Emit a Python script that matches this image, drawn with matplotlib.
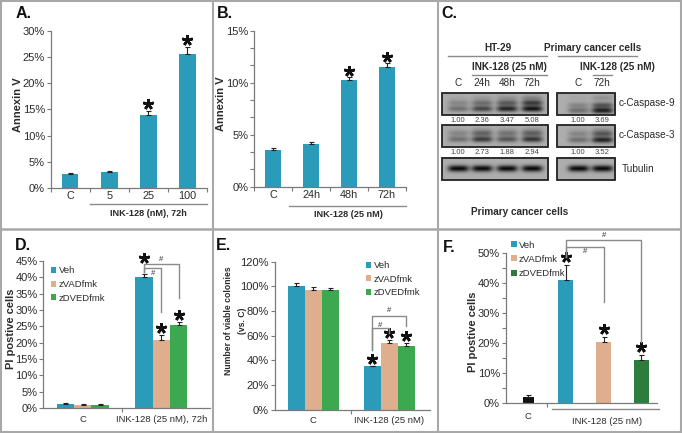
import numpy as np
import matplotlib.pyplot as plt
from matplotlib.patches import Rectangle
from matplotlib.ticker import MultipleLocator, FuncFormatter
from matplotlib.transforms import offset_copy

plt.rcParams['font.family'] = ['Liberation Sans', 'DejaVu Sans']

W, H = 682, 433

# ---- data -------------------------------------------------------------
a_cats = ['C', '5', '25', '100']
a_vals = [2.7, 3.0, 14.0, 25.6]
a_err = [0.2, 0.25, 0.65, 1.2]
a_sig = [False, False, True, True]

b_cats = ['C', '24h', '48h', '72h']
b_vals = [3.5, 4.1, 10.25, 11.55]
b_err = [0.25, 0.2, 0.25, 0.35]
b_sig = [False, False, True, True]

c_lanes_ht = ['C', '24h', '48h', '72h']
c_lanes_pc = ['C', '72h']
c_cas9_ht = [1.00, 2.36, 3.47, 5.08]
c_cas9_pc = [1.00, 3.69]
c_cas3_ht = [1.00, 2.73, 1.88, 2.94]
c_cas3_pc = [1.00, 3.52]

treatments = ['Veh', 'zVADfmk', 'zDVEDfmk']

d_groups = ['C', 'INK-128 (25 nM), 72h']
d_veh = [1.2, 40.0]
d_zvad = [1.0, 20.9]
d_zdved = [1.0, 25.4]
d_veh_err = [0.2, 0.9]
d_zvad_err = [0.2, 1.3]
d_zdved_err = [0.2, 0.8]

e_groups = ['C', 'INK-128 (25 nM)']
e_veh = [100.0, 35.0]
e_zvad = [97.0, 53.7]
e_zdved = [96.5, 51.3]
e_veh_err = [2.2, 0.5]
e_zvad_err = [2.2, 2.7]
e_zdved_err = [2.0, 2.4]

f_cats = ['C', 'Veh', 'zVADfmk', 'zDVEDfmk']
f_vals = [2.0, 41.0, 20.4, 14.3]
f_err = [0.8, 5.0, 1.6, 1.8]
f_sig = [False, True, True, True]

# ---- style ------------------------------------------------------------
TEAL = '#2b9bba'
TAN = '#deae8e'
GREEN = '#3ca950'
DGREEN = '#2e7b3e'
AXC = '#7a7a7a'
TXT = '#2a2a2a'
pct = FuncFormatter(lambda v, _: f'{v:g}%')
ekw = dict(ecolor='#222222', elinewidth=0.8, capsize=1.8, capthick=0.8)

fig = plt.figure(figsize=(W / 100, H / 100), dpi=100)
ov = fig.add_axes([0, 0, 1, 1])
ov.set_xlim(0, W)
ov.set_ylim(H, 0)
ov.axis('off')


def px_axes(l, t, r, b):
    return fig.add_axes([l / W, 1 - b / H, (r - l) / W, (b - t) / H])


def style(ax, ymax, major, minor=None, xpad=3, xsize=7.8):
    ax.set_ylim(0, ymax)
    ax.yaxis.set_major_locator(MultipleLocator(major))
    if minor:
        ax.yaxis.set_minor_locator(MultipleLocator(minor))
    ax.yaxis.set_major_formatter(pct)
    for s in ['top', 'right']:
        ax.spines[s].set_visible(False)
    for s in ['left', 'bottom']:
        ax.spines[s].set_color(AXC)
        ax.spines[s].set_linewidth(0.9)
    ax.tick_params(axis='y', which='both', direction='out', length=3,
                   width=0.8, color=AXC, labelsize=8, pad=1.2,
                   labelcolor=TXT)
    ax.tick_params(axis='x', which='major', length=0, labelsize=xsize,
                   pad=xpad, labelcolor=TXT)
    ax.tick_params(axis='x', which='minor', length=3, width=0.8, color=AXC)
    ax.patch.set_alpha(0)


def stars(ax, xs, tops, errs, flags, dy=7):
    tr = offset_copy(ax.transData, fig=fig, y=dy, units='dots')
    for x, t, e, f in zip(xs, tops, errs, flags):
        if f:
            ax.plot(x, t + e, marker=(5, 2, 0), ms=7.8, mew=1.9,
                    color='#111111', transform=tr, clip_on=False)


def bracket(ax, xl, xr, ytop, yl, yr, lx, ly):
    ax.plot([xl, xl, xr, xr], [yl, ytop, ytop, yr], color='#8a8a8a',
            lw=1.0, clip_on=False)
    ax.text(lx, ly, '#', fontsize=5.5, ha='center', va='center',
            color=TXT)


def ylabel(ax, text, xfrac, yfrac=0.5):
    ax.set_ylabel(text, fontsize=8, fontweight='bold', color=TXT)
    ax.yaxis.set_label_coords(xfrac, yfrac)


def legend(ax, handles, x, y, spacing):
    lg = ax.legend(handles, treatments, loc='upper left',
                   bbox_to_anchor=(x, y), frameon=False, fontsize=6.8,
                   handlelength=0.6, handleheight=0.6, handletextpad=0.25,
                   labelspacing=spacing, borderaxespad=0, borderpad=0)
    for t in lg.get_texts():
        t.set_color(TXT)


# ---- panel borders and letters --------------------------------------
bc = '#a8a8a8'
ov.add_patch(Rectangle((1, 1), W - 2, H - 2.5, fill=False, ec=bc, lw=1.5))
ov.plot([0, W], [229, 229], color=bc, lw=1.8)
ov.plot([212.5, 212.5], [0, H], color=bc, lw=1.5)
ov.plot([437.5, 437.5], [0, H], color=bc, lw=1.5)
for lab, x, y in [('A.', 16, 14), ('B.', 217, 14), ('C.', 441, 14),
                  ('D.', 15, 246), ('E.', 216, 245), ('F.', 443, 247)]:
    ov.text(x, y, lab, fontsize=11.5, fontweight='bold', ha='left',
            va='center', color='#111111')

# ---- A ----------------------------------------------------------------
axA = px_axes(50.7, 30.7, 207, 188)
xa = np.arange(len(a_cats))
axA.bar(xa, a_vals, 0.42, color=TEAL,
        yerr=[np.zeros(len(a_vals)), a_err], error_kw=ekw)
axA.set_xlim(-0.5, len(a_cats) - 0.5)
style(axA, 30, 5, xpad=2.2)
axA.set_xticks(xa)
axA.set_xticklabels(a_cats)
axA.set_xticks(np.arange(-0.5, len(a_cats)), minor=True)
stars(axA, xa, a_vals, a_err, a_sig)
ylabel(axA, 'Annexin V', -0.177, 0.53)
axA.plot([0.5, 3.5], [-0.102, -0.102], color='#8a8a8a', lw=1.0,
         transform=axA.get_xaxis_transform(), clip_on=False)
axA.text(2.0, -0.16, 'INK-128 (nM), 72h', fontsize=6.6, fontweight='bold',
         ha='center', va='center', color=TXT,
         transform=axA.get_xaxis_transform())

# ---- B ----------------------------------------------------------------
axB = px_axes(254.3, 30.7, 405.7, 186.7)
xb = np.arange(len(b_cats))
axB.bar(xb, b_vals, 0.41, color=TEAL,
        yerr=[np.zeros(len(b_vals)), b_err], error_kw=ekw)
axB.set_xlim(-0.5, len(b_cats) - 0.5)
style(axB, 15, 5, minor=5 / 3, xpad=2.2)
axB.set_xticks(xb)
axB.set_xticklabels(b_cats)
axB.set_xticks(np.arange(-0.5, len(b_cats)), minor=True)
stars(axB, xb, b_vals, b_err, b_sig, dy=6)
ylabel(axB, 'Annexin V', -0.19, 0.53)
axB.plot([0.42, 3.5], [-0.122, -0.122], color='#8a8a8a', lw=1.0,
         transform=axB.get_xaxis_transform(), clip_on=False)
axB.text(2.0, -0.178, 'INK-128 (25 nM)', fontsize=6.6, fontweight='bold',
         ha='center', va='center', color=TXT,
         transform=axB.get_xaxis_transform())

# ---- C (western blot) ---------------------------------------------------
ht_x = [458, 481.7, 506.7, 531.7]
pc_x = [578, 601.7]


def blot(x0, x1, y0, y1, centers, lanes, bg=0.68):
    xs = np.linspace(x0, x1, 260)
    ys = np.linspace(y0, y1, 70)
    X, Y = np.meshgrid(xs, ys)
    img = np.full(X.shape, bg)
    for xc, bands in zip(centers, lanes):
        for pos, hh, dark in bands:
            yc = y0 + pos * (y1 - y0)
            img -= dark * np.exp(-((X - xc) / 10.5) ** 4) * \
                np.exp(-((Y - yc) / hh) ** 2)
    ov.imshow(np.clip(img, 0.03, 1), cmap='gray', vmin=0, vmax=1,
              extent=(x0, x1, y1, y0), aspect='auto',
              interpolation='bilinear')
    ov.add_patch(Rectangle((x0, y0), x1 - x0, y1 - y0, fill=False,
                           ec='#222222', lw=1.3))


def casp_lanes(vals, upper=0.42, lower=0.72):
    return [[(upper, 2.8, min(0.08 + 0.07 * v, 0.45)),
             (lower, 3.0, min(0.12 + 0.12 * v, 0.6)),
             (0.22, 3.0, 0.03 * v)] for v in vals]


def tub_lanes(n):
    return [[(0.5, 3.2, 0.64)] for _ in range(n)]


rows = [(93.3, 115.0), (125.0, 146.7), (157.7, 180.0)]
blot(441.7, 548.3, *rows[0], ht_x, casp_lanes(c_cas9_ht, 0.45, 0.72))
blot(556.7, 615.0, *rows[0], pc_x, casp_lanes(c_cas9_pc, 0.55, 0.8))
blot(441.7, 548.3, *rows[1], ht_x, casp_lanes(c_cas3_ht, 0.38, 0.65))
blot(556.7, 615.0, *rows[1], pc_x, casp_lanes(c_cas3_pc, 0.4, 0.68))
blot(441.7, 548.3, *rows[2], ht_x, tub_lanes(len(ht_x)))
blot(556.7, 615.0, *rows[2], pc_x, tub_lanes(len(pc_x)))
ov.set_xlim(0, W)
ov.set_ylim(H, 0)

for xs_, vals in [(ht_x, c_cas9_ht), (pc_x, c_cas9_pc)]:
    for x, v in zip(xs_, vals):
        ov.text(x, 120.8, f'{v:.2f}', fontsize=5.5, ha='center',
                va='center', color='#444444')
for xs_, vals in [(ht_x, c_cas3_ht), (pc_x, c_cas3_pc)]:
    for x, v in zip(xs_, vals):
        ov.text(x, 152.7, f'{v:.2f}', fontsize=5.5, ha='center',
                va='center', color='#444444')
for xs_, labs in [(ht_x, c_lanes_ht), (pc_x, c_lanes_pc)]:
    for x, lab in zip(xs_, labs):
        ov.text(x, 83.5, lab, fontsize=7.2, ha='center', va='center',
                color=TXT)
for y, lab in [(103.5, 'c-Caspase-9'), (135.5, 'c-Caspase-3'),
               (169, 'Tubulin')]:
    ov.text(619 if lab != 'Tubulin' else 622, y, lab, fontsize=7.2,
            ha='left', va='center', color=TXT)

ov.text(498, 47.7, 'HT-29', fontsize=7.2, fontweight='bold', ha='center',
        va='center', color=TXT)
ov.text(593, 47.7, 'Primary cancer cells', fontsize=7.2, fontweight='bold',
        ha='center', va='center', color=TXT)
ov.plot([448, 547], [56, 56], color='#8a8a8a', lw=1.0)
ov.plot([558, 637], [56, 56], color='#8a8a8a', lw=1.0)
ov.text(509, 66.7, 'INK-128 (25 nM)', fontsize=7.2, fontweight='bold',
        ha='center', va='center', color=TXT)
ov.text(617, 66.7, 'INK-128 (25 nM)', fontsize=7.2, fontweight='bold',
        ha='center', va='center', color=TXT)
ov.plot([472, 547], [75, 75], color='#8a8a8a', lw=1.0)
ov.plot([593, 612], [75, 75], color='#8a8a8a', lw=1.0)
ov.text(471, 211.7, 'Primary cancer cells', fontsize=7.2, fontweight='bold',
        ha='left', va='center', color=TXT)

# ---- D ----------------------------------------------------------------
axD = px_axes(43.3, 261.0, 210.0, 408.0)
wd = 0.22
xd = np.arange(len(d_groups))
hD = []
for k, (vals, errs, col) in enumerate([(d_veh, d_veh_err, TEAL),
                                       (d_zvad, d_zvad_err, TAN),
                                       (d_zdved, d_zdved_err, GREEN)]):
    hD.append(axD.bar(xd + (k - 1) * wd, vals, wd, color=col,
                      yerr=[np.zeros(len(vals)), errs], error_kw=ekw))
axD.set_xlim(-0.5, 1.62)
style(axD, 45, 5, xpad=5, xsize=6.8)
axD.set_xticks(xd)
axD.set_xticklabels(d_groups)
axD.set_xticks([0.5], minor=True)
stars(axD, [1 - wd], [d_veh[1]], [d_veh_err[1]], [True], dy=16)
stars(axD, [1, 1 + wd], [d_zvad[1], d_zdved[1]],
      [d_zvad_err[1], d_zdved_err[1]], [True] * 2, dy=7)
ylabel(axD, 'PI postive cells', -0.164, 0.54)
legend(axD, hD, 0.045, 0.965, 0.5)
bracket(axD, 1 - wd, 1 + wd, 44.2, 41.6, 33.8, 1.0, 45.6)
bracket(axD, 1 - wd, 1.0, 43.0, 41.6, 29.4, 1 - wd / 2, 41.2)

# ---- E ----------------------------------------------------------------
axE = px_axes(274.7, 261.5, 430.0, 409.5)
we = 0.225
xe = np.arange(len(e_groups))
hE = []
for k, (vals, errs, col) in enumerate([(e_veh, e_veh_err, TEAL),
                                       (e_zvad, e_zvad_err, TAN),
                                       (e_zdved, e_zdved_err, GREEN)]):
    hE.append(axE.bar(xe + (k - 1) * we, vals, we, color=col,
                      yerr=[np.zeros(len(vals)), errs], error_kw=ekw))
axE.set_xlim(-0.51, 1.54)
style(axE, 120, 20, xpad=5, xsize=6.8)
axE.set_xticks(xe)
axE.set_xticklabels(e_groups)
axE.set_xticks([0.5], minor=True)
stars(axE, [1 - we, 1, 1 + we], [e_veh[1], e_zvad[1], e_zdved[1]],
      [e_veh_err[1], e_zvad_err[1], e_zdved_err[1]], [True] * 3, dy=7)
for txt, xf_ in [('Number of viable colonies', -0.296), ('(vs. C)', -0.205)]:
    axE.text(xf_, 0.6, txt, rotation=90, fontsize=6.2, fontweight='bold',
             ha='center', va='center', color=TXT, transform=axE.transAxes)
legend(axE, hE, 0.585, 1.0, 0.45)
bracket(axE, 1 - we, 1 + we, 75.8, 48.2, 67.7, 1.0, 79.9)
bracket(axE, 1 - we, 1.0, 65.8, 48.2, 61.8, 1 - we / 2, 68.5)

# ---- F ----------------------------------------------------------------
axF = px_axes(505.7, 253.3, 656.7, 403.3)
xf = np.arange(len(f_cats))
widths = [0.3, 0.4, 0.4, 0.4]
bF = axF.bar(xf, f_vals, widths, color=['#111111', TEAL, TAN, DGREEN],
             yerr=[np.zeros(len(f_vals)), f_err], error_kw=ekw)
axF.set_xlim(-0.6, 3.41)
style(axF, 50, 10, minor=5, xpad=6.5, xsize=6.8)
axF.set_xticks([0])
axF.set_xticklabels(['C'])
axF.set_xticks([0.5], minor=True)
stars(axF, xf, f_vals, f_err, f_sig, dy=8)
ylabel(axF, 'PI postive cells', -0.185, 0.48)
legend(axF, list(bF.patches[1:]), 0.035, 1.085, 0.55)
bracket(axF, 1, 3, 54.4, 48.9, 20.5, 2.0, 55.9)
bracket(axF, 1, 2, 52.0, 48.9, 33.9, 1.5, 50.5)
axF.plot([0.62, 3.46], [-0.038, -0.038], color='#8a8a8a', lw=1.0,
         transform=axF.get_xaxis_transform(), clip_on=False)
axF.text(2.08, -0.123, 'INK-128 (25 nM)', fontsize=6.8, ha='center',
         va='center', color=TXT, transform=axF.get_xaxis_transform())

fig.savefig('out.png', dpi=100)
